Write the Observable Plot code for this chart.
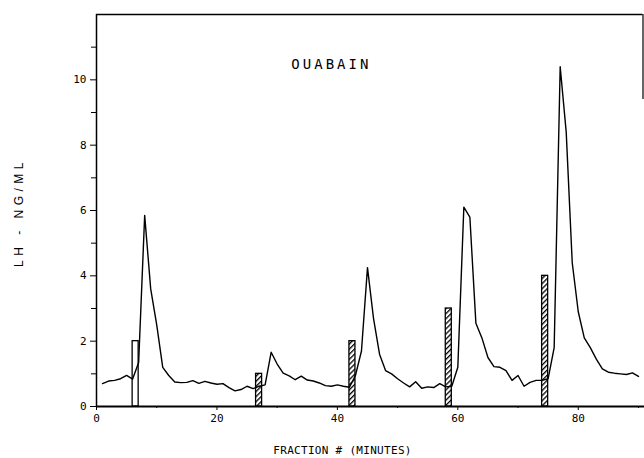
<!DOCTYPE html>
<html>
<head>
<meta charset="utf-8">
<script src="https://cdn.jsdelivr.net/npm/d3@7"></script>
<script src="https://cdn.jsdelivr.net/npm/@observablehq/plot@0.6"></script>
<style>
  html, body { margin: 0; padding: 0; background: #fff; overflow: hidden; }
</style>
</head>
<body>
<div id="chart"></div>
<script>
// LH concentration per collected fraction
const fraction = [
  1, 2, 3, 4, 5, 6, 7, 8, 9, 10,
  11, 12, 13, 14, 15, 16, 17, 18, 19, 20,
  21, 22, 23, 24, 25, 26, 27, 28, 29, 30,
  31, 32, 33, 34, 35, 36, 37, 38, 39, 40,
  41, 42, 43, 44, 45, 46, 47, 48, 49, 50,
  51, 52, 53, 54, 55, 56, 57, 58, 59, 60,
  61, 62, 63, 64, 65, 66, 67, 68, 69, 70,
  71, 72, 73, 74, 75, 76, 77, 78, 79, 80,
  81, 82, 83, 84, 85, 86, 87, 88, 89, 90
];
const lh = [
  0.70, 0.78, 0.80, 0.85, 0.95, 0.84, 1.35, 5.85, 3.60, 2.50,
  1.20, 0.95, 0.75, 0.73, 0.74, 0.79, 0.71, 0.77, 0.72, 0.68,
  0.70, 0.58, 0.48, 0.52, 0.62, 0.55, 0.62, 0.66, 1.66, 1.30,
  1.02, 0.94, 0.82, 0.93, 0.81, 0.78, 0.72, 0.64, 0.62, 0.66,
  0.62, 0.59, 0.95, 1.70, 4.25, 2.70, 1.60, 1.10, 1.00, 0.85,
  0.72, 0.60, 0.76, 0.56, 0.60, 0.58, 0.70, 0.60, 0.62, 1.20,
  6.10, 5.80, 2.55, 2.10, 1.50, 1.22, 1.20, 1.10, 0.80, 0.95,
  0.62, 0.74, 0.80, 0.80, 0.85, 1.80, 10.40, 8.40, 4.40, 2.90,
  2.10, 1.80, 1.45, 1.15, 1.05, 1.02, 1.00, 0.98, 1.03, 0.92
];

// Stimulus pulses (open = control, hatched = ouabain)
const pulseStart = [6, 26.5, 42, 58, 74];
const pulseEnd = [7, 27.5, 43, 59, 75];
const pulseDose = [2, 1, 2, 3, 4];
const pulseHatched = [false, true, true, true, true];

// Axis ticks and texts
const yLabelTicks = [0, 2, 4, 6, 8, 10];
const yMinorTicks = [1, 3, 5, 7, 9, 11];
const xLabelTicks = [0, 20, 40, 60, 80];
const xMinorTicks = [10, 30, 50, 70, 90];
const drugLabel = "OUABAIN";
const xTitle = "FRACTION # (MINUTES)";
const yTitle = "LH - NG/ML";

const series = fraction.map((f, i) => ({fraction: f, lh: lh[i]}));
const pulses = pulseStart.map((s, i) => ({
  start: s, end: pulseEnd[i], dose: pulseDose[i], hatched: pulseHatched[i]
}));

const mono = "'DejaVu Sans Mono', monospace";
const sans = "'Liberation Sans', Arial, sans-serif";

const chart = Plot.plot({
  width: 644,
  height: 458,
  marginLeft: 96,
  marginRight: 0,
  marginTop: 14,
  marginBottom: 52,
  style: {background: "#fff", color: "#000", fontFamily: mono, fontSize: "11px"},
  x: {domain: [0, 91]},
  y: {domain: [0, 12]},
  marks: [
    Plot.rect(pulses.filter(d => !d.hatched), {
      x1: "start", x2: "end", y1: 0, y2: "dose",
      fill: "white", stroke: "black", strokeWidth: 1.3
    }),
    Plot.rect(pulses.filter(d => d.hatched), {
      x1: "start", x2: "end", y1: 0, y2: "dose",
      fill: "url(#hatch)", stroke: "black", strokeWidth: 1.3
    }),
    Plot.line(series, {x: "fraction", y: "lh", stroke: "black", strokeWidth: 1.4}),
    // frame pieces
    Plot.ruleX([0], {y1: 0, y2: 12, stroke: "black", strokeWidth: 1.5}),
    Plot.ruleY([0], {x1: 0, x2: 91, stroke: "black", strokeWidth: 1.8}),
    Plot.ruleY([12], {x1: 0, x2: 90.75, stroke: "black", strokeWidth: 1.5}),
    Plot.ruleX([90.75], {y1: 9.4, y2: 12, stroke: "black", strokeWidth: 1.2}),
    // axes
    Plot.axisY(yLabelTicks, {tickSize: 6, tickPadding: 4, label: null, fontSize: 11}),
    Plot.axisY(yMinorTicks, {tickSize: 5, tickFormat: () => "", label: null}),
    Plot.axisX(xLabelTicks, {tickSize: 4, tickPadding: 4, label: null, fontSize: 11}),
    Plot.axisX(xMinorTicks, {tickSize: 2, tickFormat: () => "", label: null}),
    // labels
    Plot.text([drugLabel], {x: 39, y: 10.47, text: d => d, fontSize: 14, fontFamily: mono, fill: "black"}),
    Plot.text([xTitle], {frameAnchor: "bottom", dx: -28, dy: 47, text: d => d, fontSize: 11, fontFamily: mono, fill: "black"}),
    Plot.text([yTitle], {
      frameAnchor: "left", textAnchor: "middle", dx: -77, dy: 2, rotate: -90,
      text: d => d, fontSize: 12, fontFamily: sans, fill: "black"
    })
  ]
});

// hatch pattern for ouabain pulses
d3.select(chart).insert("defs", ":first-child").html(
  '<pattern id="hatch" patternUnits="userSpaceOnUse" width="3.6" height="3.6" patternTransform="rotate(-45)">' +
  '<rect width="3.6" height="3.6" fill="white"/><rect width="3.6" height="1.3" fill="black"/></pattern>'
);

// letter spacing on the labels
d3.select(chart).selectAll("text").each(function () {
  const t = this.textContent;
  if (t === drugLabel) this.style.letterSpacing = "3px";
  else if (t === xTitle) this.style.letterSpacing = "0.3px";
  else if (t === yTitle) this.style.letterSpacing = "4.5px";
});

document.getElementById("chart").appendChild(chart);
</script>
</body>
</html>
